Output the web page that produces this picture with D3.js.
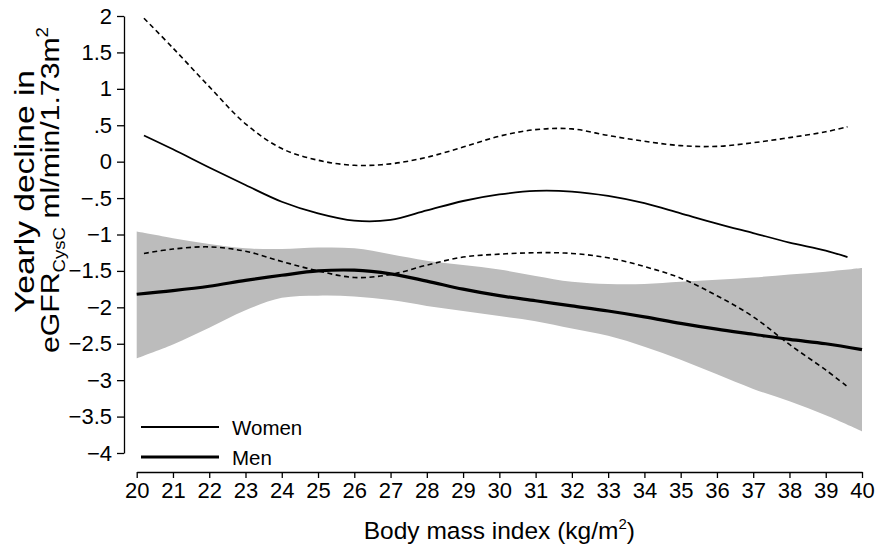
<!DOCTYPE html>
<html>
<head>
    <meta charset="utf-8">
    <title>Yearly eGFR decline by BMI</title>
    <script src="https://d3js.org/d3.v7.min.js"></script>
    <style>
        body { margin: 0; background: #fff; }
        svg { font-family: "Liberation Sans", Arial, sans-serif; }
        .axis path, .axis line { stroke: #000; stroke-width: 1.3px; }
        .axis text { font-size: 22px; fill: #000; }
        .xtitle { font-size: 24.5px; fill: #000; }
        .ytitle { font-size: 27px; fill: #000; }
        .legend text { font-size: 20.5px; fill: #000; }
    </style>
</head>
<body>
<svg width="877" height="547"></svg>
<script>
    // tick values and labels
    var xTicks = d3.range(20, 41);
    var yTicks = [2, 1.5, 1, 0.5, 0, -0.5, -1, -1.5, -2, -2.5, -3, -3.5, -4];
    var yTickLabels = ["2", "1.5", "1", ".5", "0", "\u2212.5", "\u22121", "\u22121.5", "\u22122", "\u22122.5", "\u22123", "\u22123.5", "\u22124"];

    // women: spline estimate with 95% CI (dashed)
    var womenBmi   = [20.2, 21, 22, 23, 24, 25, 26, 27, 28, 29, 30, 31, 32, 33, 34, 35, 36, 37, 38, 39, 39.6];
    var womenMean  = [0.36, 0.17, -0.08, -0.32, -0.55, -0.71, -0.81, -0.80, -0.67, -0.54, -0.45, -0.40, -0.41, -0.47, -0.57, -0.71, -0.85, -0.98, -1.11, -1.22, -1.31];
    var womenUpper = [1.97, 1.56, 1.03, 0.52, 0.18, 0.02, -0.05, -0.03, 0.06, 0.20, 0.35, 0.44, 0.45, 0.36, 0.28, 0.22, 0.21, 0.26, 0.33, 0.41, 0.48];
    var womenLower = [-1.26, -1.20, -1.17, -1.23, -1.37, -1.50, -1.59, -1.55, -1.42, -1.31, -1.27, -1.25, -1.26, -1.32, -1.44, -1.60, -1.84, -2.13, -2.51, -2.86, -3.09];

    // men: spline estimate with 95% CI (grey band)
    var menBmi   = [20, 21, 22, 23, 24, 25, 26, 27, 28, 29, 30, 31, 32, 33, 34, 35, 36, 37, 38, 39, 40];
    var menMean  = [-1.82, -1.77, -1.71, -1.63, -1.56, -1.50, -1.49, -1.54, -1.64, -1.75, -1.84, -1.91, -1.98, -2.05, -2.13, -2.22, -2.30, -2.37, -2.44, -2.50, -2.58];
    var menUpper = [-0.96, -1.05, -1.13, -1.19, -1.20, -1.18, -1.19, -1.27, -1.36, -1.42, -1.48, -1.57, -1.65, -1.68, -1.68, -1.65, -1.62, -1.59, -1.55, -1.51, -1.46];
    var menLower = [-2.70, -2.51, -2.28, -2.04, -1.87, -1.84, -1.85, -1.90, -1.98, -2.05, -2.12, -2.19, -2.29, -2.39, -2.54, -2.72, -2.92, -3.12, -3.29, -3.48, -3.70];

    var svg = d3.select("svg");

    var x = d3.scaleLinear().domain([20, 40]).range([136.7, 862]);
    var y = d3.scaleLinear().domain([-4, 2]).range([453, 16]);

    function rows(bmi, vals) {
        return bmi.map(function (b, i) { return [b, vals[i]]; });
    }

    var smooth = d3.curveCatmullRom.alpha(0.5);

    var line = d3.line()
        .x(function (d) { return x(d[0]); })
        .y(function (d) { return y(d[1]); })
        .curve(smooth);

    var area = d3.area()
        .x(function (d) { return x(d.b); })
        .y0(function (d) { return y(d.lo); })
        .y1(function (d) { return y(d.hi); })
        .curve(smooth);

    var band = menBmi.map(function (b, i) { return {b: b, lo: menLower[i], hi: menUpper[i]}; });

    svg.append("path")
        .attr("d", area(band))
        .attr("fill", "#bcbcbc");

    svg.append("path")
        .attr("d", line(rows(menBmi, menMean)))
        .attr("fill", "none")
        .attr("stroke", "#000")
        .attr("stroke-width", 3.2);

    [womenUpper, womenLower].forEach(function (vals) {
        svg.append("path")
            .attr("d", line(rows(womenBmi, vals)))
            .attr("fill", "none")
            .attr("stroke", "#000")
            .attr("stroke-width", 1.6)
            .attr("stroke-dasharray", "5,3.5");
    });

    svg.append("path")
        .attr("d", line(rows(womenBmi, womenMean)))
        .attr("fill", "none")
        .attr("stroke", "#000")
        .attr("stroke-width", 1.8);

    // axes
    svg.append("g")
        .attr("class", "axis")
        .attr("transform", "translate(0,472)")
        .call(d3.axisBottom(x).tickValues(xTicks).tickFormat(d3.format("d")).tickSize(6).tickSizeOuter(0).tickPadding(4));

    svg.append("g")
        .attr("class", "axis")
        .attr("transform", "translate(124,0)")
        .call(d3.axisLeft(y).tickValues(yTicks)
            .tickFormat(function (d, i) { return yTickLabels[i]; })
            .tickSize(7).tickSizeOuter(0).tickPadding(5));

    // x title
    var xt = svg.append("text")
        .attr("class", "xtitle")
        .attr("x", x(30))
        .attr("y", 539)
        .attr("text-anchor", "middle");
    xt.append("tspan").text("Body mass index (kg/m");
    xt.append("tspan").attr("dy", -10).style("font-size", "15px").text("2");
    xt.append("tspan").attr("dy", 10).text(")");

    // y title, two lines; stretched along the text to the reference length
    function fitY(sel, cx, cy, len) {
        var w = sel.node().getComputedTextLength();
        sel.attr("transform", "translate(" + cx + "," + cy + ") rotate(-90) scale(" + (len / w) + ",1)");
    }

    var yt1 = svg.append("text")
        .attr("class", "ytitle")
        .attr("text-anchor", "middle")
        .text("Yearly decline in");
    fitY(yt1, 34, 191.5, 243);

    var yt2 = svg.append("text")
        .attr("class", "ytitle")
        .attr("text-anchor", "middle")
        .style("font-size", "26px");
    yt2.append("tspan").text("eGFR");
    yt2.append("tspan").attr("dy", 6).style("font-size", "16px").text("CysC");
    yt2.append("tspan").attr("dy", -6).text(" ml/min/1.73m");
    yt2.append("tspan").attr("dy", -11).style("font-size", "16px").text("2");
    fitY(yt2, 59, 190, 326);

    // legend
    var legend = svg.append("g").attr("class", "legend");
    var items = [
        {label: "Women", w: 1.8, y: 427},
        {label: "Men", w: 3.2, y: 457}
    ];
    items.forEach(function (it) {
        legend.append("line")
            .attr("x1", 141).attr("x2", 219)
            .attr("y1", it.y).attr("y2", it.y)
            .attr("stroke", "#000")
            .attr("stroke-width", it.w);
        legend.append("text")
            .attr("x", 232)
            .attr("y", it.y + 8)
            .text(it.label);
    });
</script>
</body>
</html>
